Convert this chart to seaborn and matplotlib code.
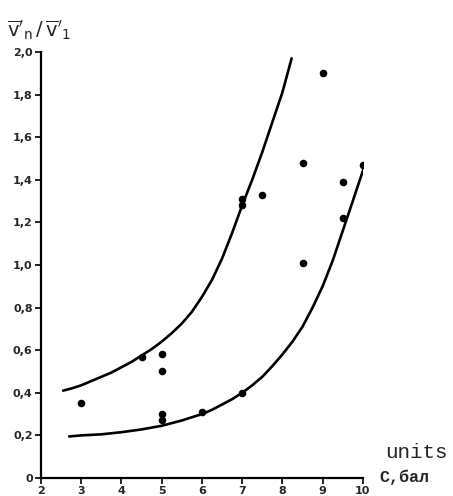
import matplotlib
matplotlib.use("Agg")
import matplotlib.pyplot as plt
import seaborn as sns
import pandas as pd

# Measured points
conc = [3, 4.5, 5, 5, 5, 5, 6, 7, 7, 7, 7.5, 8.5, 8.5, 9, 9.5, 9.5, 10]
ratio = [0.35, 0.57, 0.58, 0.50, 0.30, 0.27, 0.31, 0.40, 1.31, 1.28, 1.33,
         1.48, 1.01, 1.90, 1.39, 1.22, 1.47]

# Upper envelope curve
upper_x = [2.55, 2.75, 3.0, 3.25, 3.5, 3.75, 4.0, 4.25, 4.5, 4.75, 5.0, 5.25,
           5.5, 5.75, 6.0, 6.25, 6.5, 6.75, 7.0, 7.25, 7.5, 7.75, 8.0, 8.23]
upper_y = [0.41, 0.42, 0.435, 0.455, 0.475, 0.495, 0.52, 0.545, 0.575, 0.605,
           0.64, 0.68, 0.725, 0.78, 0.85, 0.93, 1.03, 1.15, 1.28, 1.40, 1.53,
           1.67, 1.81, 1.97]

# Lower envelope curve
lower_x = [2.7, 3.0, 3.5, 4.0, 4.5, 5.0, 5.5, 5.75, 6.0, 6.25, 6.5, 6.75, 7.0,
           7.25, 7.5, 7.75, 8.0, 8.25, 8.5, 8.75, 9.0, 9.25, 9.5, 9.75, 10.05]
lower_y = [0.195, 0.20, 0.205, 0.215, 0.228, 0.245, 0.27, 0.285, 0.30, 0.32,
           0.345, 0.37, 0.40, 0.435, 0.475, 0.525, 0.58, 0.64, 0.71, 0.80,
           0.90, 1.02, 1.16, 1.30, 1.47]

x_ticks = [2, 3, 4, 5, 6, 7, 8, 9, 10]
y_ticks = [0, 0.2, 0.4, 0.6, 0.8, 1.0, 1.2, 1.4, 1.6, 1.8, 2.0]
y_tick_labels = ["0", "0,2", "0,4", "0,6", "0,8", "1,0", "1,2", "1,4", "1,6", "1,8", "2,0"]

sns.set_style("ticks")
plt.rcParams["font.family"] = ["DejaVu Sans"]

fig = plt.figure(figsize=(4.53, 4.96), dpi=100)
ax = fig.add_axes([0.0905, 0.0363, 0.7105, 0.859])

pts = pd.DataFrame({"C": conc, "r": ratio})
up = pd.DataFrame({"C": upper_x, "r": upper_y})
lo = pd.DataFrame({"C": lower_x, "r": lower_y})

for curve in (up, lo):
    sns.lineplot(data=curve, x="C", y="r", ax=ax, color="black", linewidth=1.9,
                 sort=False, estimator=None)
sns.scatterplot(data=pts, x="C", y="r", ax=ax, color="black", s=30,
                edgecolor="black", linewidth=0, zorder=3)

ax.set_xlim(2, 10)
ax.set_ylim(0, 2.0)
ax.set_xticks(x_ticks)
ax.set_xticklabels([str(t) for t in x_ticks], fontsize=8, fontweight="bold")
ax.set_yticks(y_ticks)
ax.set_yticklabels(y_tick_labels, fontsize=8, fontweight="bold")
ax.tick_params(axis="both", direction="out", length=4, width=1.2, color="black", pad=2)
ax.set_xlabel("")
ax.set_ylabel("")

for side in ("top", "right"):
    ax.spines[side].set_visible(False)
for side in ("left", "bottom"):
    ax.spines[side].set_linewidth(1.6)
    ax.spines[side].set_color("black")

fig.text(0.015, 0.915, r"$\overline{\rm v}'_{\rm n}\,/\,\overline{\rm v}'_{\rm 1}$",
         fontsize=14, ha="left", va="bottom")
fig.text(0.85, 0.068, "units", fontsize=15, family="Liberation Mono",
         ha="left", va="bottom")
fig.text(0.838, 0.022, "C,бал", fontsize=12, family="Liberation Mono",
         fontweight="bold", ha="left", va="bottom")

fig.savefig("out.png", dpi=100)
